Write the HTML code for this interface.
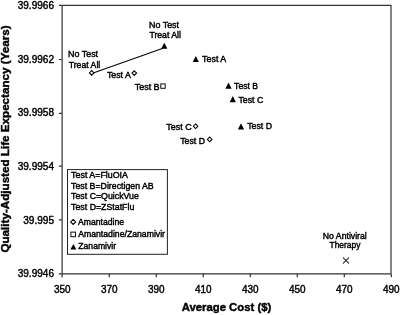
<!DOCTYPE html>
<html><head><meta charset="utf-8"><title>Chart</title>
<style>
html,body{margin:0;padding:0;background:#fff;}
body{width:400px;height:315px;overflow:hidden;}
svg{display:block;}
text{font-family:"Liberation Sans",Arial,sans-serif;fill:#000;stroke:#000;stroke-width:0.42px;}
.t{font-size:10.2px;}
.l{font-size:8.8px;}
.b{font-size:11.8px;font-weight:bold;}
</style></head><body>
<svg width="400" height="315" viewBox="0 0 400 315">
<rect x="0" y="0" width="400" height="315" fill="#fff"/>
<g fill="none" stroke="#333" stroke-width="1.2">
<path d="M62.1 5.3H391V273.8"/>
<path d="M62.1 5.3V277.4M62.1 273.8H391"/>
<path d="M58.9 5.30H62M58.9 59.50H62M58.9 113.40H62M58.9 166.20H62M58.9 219.90H62M58.9 273.80H62M109.3 273.8V277.3M156.3 273.8V277.3M203.3 273.8V277.3M250.3 273.8V277.3M297.3 273.8V277.3M344.3 273.8V277.3M391.3 273.8V277.3"/>
</g>
<text class="t" x="54.0" y="8.55" text-anchor="end" textLength="36.3" lengthAdjust="spacingAndGlyphs">39.9966</text>
<text class="t" x="54.0" y="62.60" text-anchor="end" textLength="36.3" lengthAdjust="spacingAndGlyphs">39.9962</text>
<text class="t" x="54.0" y="116.25" text-anchor="end" textLength="36.3" lengthAdjust="spacingAndGlyphs">39.9958</text>
<text class="t" x="54.0" y="169.90" text-anchor="end" textLength="36.3" lengthAdjust="spacingAndGlyphs">39.9954</text>
<text class="t" x="54.0" y="223.50" text-anchor="end" textLength="30.8" lengthAdjust="spacingAndGlyphs">39.995</text>
<text class="t" x="54.0" y="277.40" text-anchor="end" textLength="36.3" lengthAdjust="spacingAndGlyphs">39.9946</text>
<text class="t" x="62.3" y="292.8" text-anchor="middle" textLength="16.6" lengthAdjust="spacingAndGlyphs">350</text>
<text class="t" x="109.3" y="292.8" text-anchor="middle" textLength="16.6" lengthAdjust="spacingAndGlyphs">370</text>
<text class="t" x="156.3" y="292.8" text-anchor="middle" textLength="16.6" lengthAdjust="spacingAndGlyphs">390</text>
<text class="t" x="203.3" y="292.8" text-anchor="middle" textLength="16.6" lengthAdjust="spacingAndGlyphs">410</text>
<text class="t" x="250.3" y="292.8" text-anchor="middle" textLength="16.6" lengthAdjust="spacingAndGlyphs">430</text>
<text class="t" x="297.3" y="292.8" text-anchor="middle" textLength="16.6" lengthAdjust="spacingAndGlyphs">450</text>
<text class="t" x="344.3" y="292.8" text-anchor="middle" textLength="16.6" lengthAdjust="spacingAndGlyphs">470</text>
<text class="t" x="391.3" y="292.8" text-anchor="middle" textLength="16.6" lengthAdjust="spacingAndGlyphs">490</text>
<text class="b" x="226.5" y="311.4" text-anchor="middle" textLength="89.6" lengthAdjust="spacingAndGlyphs">Average Cost ($)</text>
<text class="b" transform="translate(9.3 139.0) rotate(-90)" text-anchor="middle" textLength="227.2" lengthAdjust="spacingAndGlyphs">Quality-Adjusted Life Expectancy (Years)</text>
<path d="M92.5 73.2L163 48.3" stroke="#000" stroke-width="1.1" fill="none"/>
<path d="M91.7 70.60000000000001L94.0 72.9L91.7 75.2L89.4 72.9Z" fill="#fff" stroke="#000" stroke-width="1.05"/>
<path d="M164.3 42.8L167.4 48.8H161.20000000000002Z" fill="#000"/>
<path d="M134.3 70.8L136.60000000000002 73.1L134.3 75.39999999999999L132.0 73.1Z" fill="#fff" stroke="#000" stroke-width="1.05"/>
<rect x="160.8" y="83.89999999999999" width="4.4" height="4.4" fill="#fff" stroke="#000" stroke-width="0.95"/>
<path d="M195.8 55.9L198.9 61.9H192.70000000000002Z" fill="#000"/>
<path d="M228.5 82.6L231.6 88.8H225.4Z" fill="#000"/>
<path d="M232.8 96.1L235.9 102.3H229.70000000000002Z" fill="#000"/>
<path d="M241 123.3L244.1 129.4H237.9Z" fill="#000"/>
<path d="M195.6 123.9L197.9 126.2L195.6 128.5L193.29999999999998 126.2Z" fill="#fff" stroke="#000" stroke-width="1.05"/>
<path d="M209.7 137.1L212.0 139.4L209.7 141.70000000000002L207.39999999999998 139.4Z" fill="#fff" stroke="#000" stroke-width="1.05"/>
<path d="M343.0 257.5L349.0 263.5M349.0 257.5L343.0 263.5" stroke="#000" stroke-width="1.05" fill="none"/>
<text class="l" x="149.0" y="27.7" textLength="30.00" lengthAdjust="spacingAndGlyphs">No Test</text>
<text class="l" x="149.4" y="38.4" textLength="31.60" lengthAdjust="spacingAndGlyphs">Treat All</text>
<text class="l" x="68.1" y="56.9" textLength="30.00" lengthAdjust="spacingAndGlyphs">No Test</text>
<text class="l" x="68.75" y="67.7" textLength="31.50" lengthAdjust="spacingAndGlyphs">Treat All</text>
<text class="l" x="106.9" y="77.7" textLength="24.00" lengthAdjust="spacingAndGlyphs">Test A</text>
<text class="l" x="134.7" y="89.6" textLength="24.90" lengthAdjust="spacingAndGlyphs">Test B</text>
<text class="l" x="202.1" y="61.7" textLength="24.15" lengthAdjust="spacingAndGlyphs">Test A</text>
<text class="l" x="234.1" y="89.0" textLength="24.00" lengthAdjust="spacingAndGlyphs">Test B</text>
<text class="l" x="238.4" y="102.6" textLength="25.00" lengthAdjust="spacingAndGlyphs">Test C</text>
<text class="l" x="247.25" y="128.9" textLength="24.75" lengthAdjust="spacingAndGlyphs">Test D</text>
<text class="l" x="166.3" y="130.0" textLength="25.50" lengthAdjust="spacingAndGlyphs">Test C</text>
<text class="l" x="180.25" y="143.5" textLength="24.75" lengthAdjust="spacingAndGlyphs">Test D</text>
<text class="l" x="322.8" y="238.5" textLength="43.95" lengthAdjust="spacingAndGlyphs">No Antiviral</text>
<text class="l" x="329.5" y="248.3" textLength="31.00" lengthAdjust="spacingAndGlyphs">Therapy</text>
<rect x="67.5" y="169.6" width="99.9" height="84.7" fill="#fff" stroke="#222" stroke-width="1"/>
<text class="l" x="71.1" y="177.7" textLength="56.90" lengthAdjust="spacingAndGlyphs">Test A=FluOIA</text>
<text class="l" x="71.1" y="188.5" textLength="82.60" lengthAdjust="spacingAndGlyphs">Test B=Directigen AB</text>
<text class="l" x="71.1" y="199.1" textLength="67.80" lengthAdjust="spacingAndGlyphs">Test C=QuickVue</text>
<text class="l" x="71.1" y="209.8" textLength="63.20" lengthAdjust="spacingAndGlyphs">Test D=ZStatFlu</text>
<path d="M73.2 219.4L75.7 221.9L73.2 224.4L70.7 221.9Z" fill="#fff" stroke="#000" stroke-width="1.05"/>
<text class="l" x="78.0" y="224.5" textLength="46.10" lengthAdjust="spacingAndGlyphs">Amantadine</text>
<rect x="70.9" y="232.1" width="4.6" height="4.6" fill="#fff" stroke="#000" stroke-width="0.95"/>
<text class="l" x="78.2" y="236.9" textLength="86.80" lengthAdjust="spacingAndGlyphs">Amantadine/Zanamivir</text>
<path d="M73.4 243.9L76.4 249.5H70.4Z" fill="#000"/>
<text class="l" x="78.3" y="248.9" textLength="37.80" lengthAdjust="spacingAndGlyphs">Zanamivir</text>
</svg></body></html>
